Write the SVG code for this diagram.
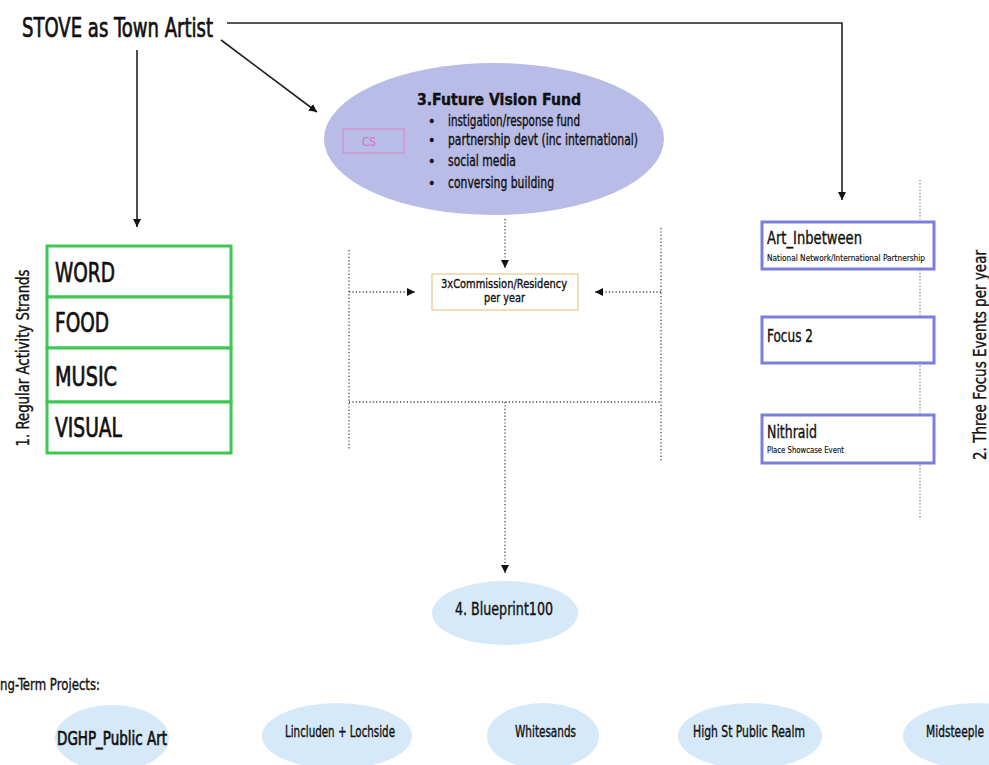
<svg xmlns="http://www.w3.org/2000/svg" width="989" height="765" viewBox="0 0 989 765">
<defs>
<style>
text{font-family:"DejaVu Sans Condensed","DejaVu Sans","Liberation Sans",sans-serif;fill:#111;stroke:#111;stroke-width:0.35}
.big{stroke-width:0.7}
.sm{stroke-width:0.15}
.solid{fill:none;stroke:#222;stroke-width:1.6}
.dot{fill:none;stroke:#444;stroke-width:1.3;stroke-dasharray:1.2 2.2}
.dotl{fill:none;stroke:#777;stroke-width:1.2;stroke-dasharray:1.2 2}
.green{fill:#fff;stroke:#3dc853;stroke-width:3}
.blue{fill:#fff;stroke:#7b7fdb;stroke-width:3}
.lb{fill:#d5e9f8}
</style>
<marker id="ah" viewBox="0 0 10 10" refX="10" refY="5" markerWidth="8" markerHeight="8" markerUnits="userSpaceOnUse" orient="auto">
<path d="M0,0 L10,5 L0,10 Z" fill="#111"/>
</marker>
</defs>
<rect width="989" height="765" fill="#fff"/>

<g id="connectors">
<polyline class="solid" points="227,23 842,23 842,200" marker-end="url(#ah)"/>
<line class="solid" x1="221" y1="40" x2="317" y2="112" marker-end="url(#ah)"/>
<line class="solid" x1="137" y1="50" x2="137" y2="227" marker-end="url(#ah)"/>
<line class="dot" x1="505" y1="219" x2="505" y2="268" marker-end="url(#ah)"/>
<line class="dot" x1="349" y1="250" x2="349" y2="450"/>
<line class="dot" x1="661" y1="228" x2="661" y2="462"/>
<line class="dot" x1="349" y1="292" x2="415" y2="292" marker-end="url(#ah)"/>
<line class="dot" x1="661" y1="292" x2="595" y2="292" marker-end="url(#ah)"/>
<line class="dot" x1="349" y1="402" x2="661" y2="402"/>
<line class="dot" x1="505" y1="402" x2="505" y2="573" marker-end="url(#ah)"/>
<line class="dotl" x1="920" y1="180" x2="920" y2="518"/>
</g>

<g id="title">
<text class="big" x="22" y="37" font-size="27" textLength="191" lengthAdjust="spacingAndGlyphs">STOVE as Town Artist</text>
</g>

<g id="future-vision-fund">
<ellipse cx="494" cy="139" rx="170" ry="76" fill="#b9bce6"/>
<rect x="343" y="129" width="61" height="24" fill="none" stroke="#d88ac8" stroke-width="1.2"/>
<text class="sm" x="362" y="146" font-size="13" textLength="14" lengthAdjust="spacingAndGlyphs" style="fill:#d27ac0;stroke:#d27ac0">CS</text>
<text x="417" y="105" font-size="15" font-weight="bold" textLength="164" lengthAdjust="spacingAndGlyphs">3.Future Vision Fund</text>
<text x="428" y="126" font-size="14">•</text>
<text x="428" y="145" font-size="14">•</text>
<text x="428" y="166" font-size="14">•</text>
<text x="428" y="188" font-size="14">•</text>
<text x="448" y="126" font-size="15" textLength="132" lengthAdjust="spacingAndGlyphs">instigation/response fund</text>
<text x="448" y="145" font-size="15" textLength="190" lengthAdjust="spacingAndGlyphs">partnership devt (inc international)</text>
<text x="448" y="166" font-size="15" textLength="68" lengthAdjust="spacingAndGlyphs">social media</text>
<text x="448" y="188" font-size="15" textLength="106" lengthAdjust="spacingAndGlyphs">conversing building</text>
</g>

<g id="regular-activity-strands">
<text transform="translate(29,358) rotate(-90)" font-size="17" text-anchor="middle" textLength="177" lengthAdjust="spacingAndGlyphs">1. Regular Activity Strands</text>
</g>
<g id="word">
<rect class="green" x="47" y="246" width="184" height="51"/>
<text class="big" x="55" y="282" font-size="27" textLength="60" lengthAdjust="spacingAndGlyphs">WORD</text>
</g>
<g id="food">
<rect class="green" x="47" y="297" width="184" height="51"/>
<text class="big" x="55" y="332" font-size="27" textLength="54" lengthAdjust="spacingAndGlyphs">FOOD</text>
</g>
<g id="music">
<rect class="green" x="47" y="348" width="184" height="54"/>
<text class="big" x="55" y="386" font-size="27" textLength="62" lengthAdjust="spacingAndGlyphs">MUSIC</text>
</g>
<g id="visual">
<rect class="green" x="47" y="402" width="184" height="51"/>
<text class="big" x="55" y="437" font-size="27" textLength="67" lengthAdjust="spacingAndGlyphs">VISUAL</text>
</g>

<g id="commission">
<rect x="432" y="274" width="146" height="36" fill="#fff" stroke="#eccb95" stroke-width="1.3"/>
<text x="441" y="288" font-size="13" textLength="126" lengthAdjust="spacingAndGlyphs">3xCommission/Residency</text>
<text x="484" y="302" font-size="13" textLength="41" lengthAdjust="spacingAndGlyphs">per year</text>
</g>

<g id="focus-events-label">
<text transform="translate(986,355) rotate(-90)" font-size="17" text-anchor="middle" textLength="210" lengthAdjust="spacingAndGlyphs">2. Three Focus Events per year</text>
</g>
<g id="art-inbetween">
<rect class="blue" x="762" y="222" width="172" height="47"/>
<text x="767" y="244" font-size="17" textLength="95" lengthAdjust="spacingAndGlyphs">Art_Inbetween</text>
<text class="sm" x="767" y="261" font-size="9" textLength="158" lengthAdjust="spacingAndGlyphs">National Network/International Partnership</text>
</g>
<g id="focus2">
<rect class="blue" x="762" y="317" width="172" height="46"/>
<text x="767" y="342" font-size="17" textLength="46" lengthAdjust="spacingAndGlyphs">Focus 2</text>
</g>
<g id="nithraid">
<rect class="blue" x="762" y="415" width="172" height="48"/>
<text x="767" y="438" font-size="17" textLength="50" lengthAdjust="spacingAndGlyphs">Nithraid</text>
<text class="sm" x="767" y="453" font-size="9" textLength="77" lengthAdjust="spacingAndGlyphs">Place Showcase Event</text>
</g>

<g id="blueprint100">
<ellipse class="lb" cx="505" cy="613" rx="73" ry="32"/>
<text x="455" y="615" font-size="17" textLength="98" lengthAdjust="spacingAndGlyphs">4. Blueprint100</text>
</g>

<g id="long-term-label">
<text x="0" y="690" font-size="15" textLength="100" lengthAdjust="spacingAndGlyphs">ng-Term Projects:</text>
</g>
<g id="dghp">
<ellipse class="lb" cx="112" cy="738" rx="57" ry="33"/>
<text class="big" x="57" y="745" font-size="20" textLength="110" lengthAdjust="spacingAndGlyphs">DGHP_Public Art</text>
</g>
<g id="lincluden">
<ellipse class="lb" cx="337" cy="736" rx="75" ry="33"/>
<text x="285" y="737" font-size="15" textLength="110" lengthAdjust="spacingAndGlyphs">Lincluden + Lochside</text>
</g>
<g id="whitesands">
<ellipse class="lb" cx="543" cy="736" rx="56" ry="33"/>
<text x="515" y="737" font-size="15" textLength="61" lengthAdjust="spacingAndGlyphs">Whitesands</text>
</g>
<g id="high-st">
<ellipse class="lb" cx="750" cy="736" rx="72" ry="33"/>
<text x="693" y="737" font-size="15" textLength="112" lengthAdjust="spacingAndGlyphs">High St Public Realm</text>
</g>
<g id="midsteeple">
<ellipse class="lb" cx="975" cy="736" rx="72" ry="33"/>
<text x="926" y="737" font-size="15" textLength="58" lengthAdjust="spacingAndGlyphs">Midsteeple</text>
</g>
</svg>
